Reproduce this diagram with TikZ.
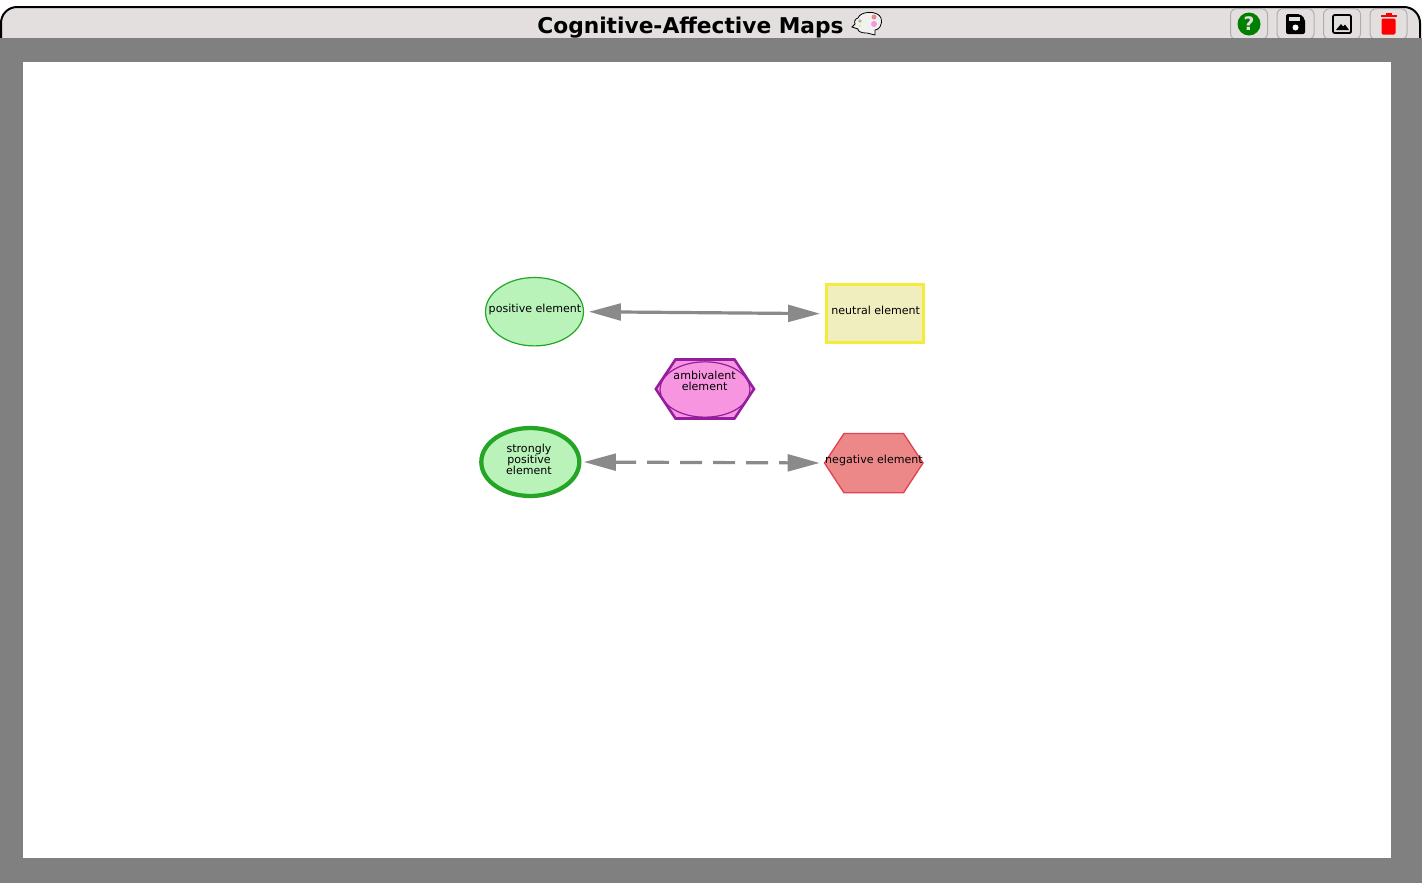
\documentclass[tikz,border=0pt]{standalone}
\usepackage{fontspec}
\setmainfont{DejaVu Sans}
\usetikzlibrary{arrows.meta,shapes.geometric}
\definecolor{bar}{HTML}{E3DFDF}
\definecolor{frame}{HTML}{808080}
\definecolor{arrowgray}{HTML}{8A8A8A}
\definecolor{posfill}{HTML}{BAF3B9}
\definecolor{posline}{HTML}{25A525}
\definecolor{negfill}{HTML}{EC8888}
\definecolor{negline}{HTML}{E04450}
\definecolor{ambfill}{HTML}{F795E0}
\definecolor{ambline}{HTML}{951E9E}
\definecolor{neufill}{HTML}{F0EDBE}
\definecolor{neuline}{HTML}{F3EC3C}
\definecolor{btnline}{HTML}{B0ADAD}
\tikzset{
  px/.style={x=0.75pt,y=-0.75pt},
  lbl/.style={font=\fontsize{8.3pt}{8.25pt}\selectfont,align=center,inner sep=0pt,text=black},
  link/.style={draw=arrowgray,line width=2.4pt,{Triangle[length=24pt,width=12.5pt,fill=arrowgray]}-{Triangle[length=24pt,width=12.5pt,fill=arrowgray]}},
  btn/.style={draw=btnline,fill=bar,line width=0.75pt,rounded corners=4.5pt,minimum width=27.75pt,minimum height=23pt,inner sep=0pt},
}
\begin{document}
\begin{tikzpicture}[px]
\useasboundingbox (0,0) rectangle (1422,883);
\fill[white] (0,0) rectangle (1422,883);
% title bar
\draw[fill=bar,line width=1.5pt] (1,40) -- (1,23) arc[start angle=180,end angle=90,radius=12pt] -- (1404,7) arc[start angle=90,end angle=0,radius=12pt] -- (1420,40);
\fill[frame] (0,38) rectangle (1422,883);
\fill[white] (23,62) rectangle (1391,858);
\node[inner sep=0pt,text=black] (title) at (690.5,27.5) {\fontsize{16.3pt}{20pt}\selectfont\bfseries Cognitive-Affective Maps};
% brain icon
\draw[line width=0.6pt,fill=bar!45!white] (858,18) .. controls (860,11) and (878,10) .. (881,18) .. controls (883,26) and (878,30) .. (875,30) -- (875,35) -- (867,33) .. controls (860,33) and (858,31) .. (858,29) -- (852,27) -- (855,24) .. controls (854,21) and (855,19) .. (858,18) -- cycle;
\fill[posfill!80!black] (860,21) circle[radius=1.8];
\fill[neuline] (860,26) circle[radius=1.2];
\fill[negfill] (874,17) circle[radius=2.5];
\fill[ambfill] (874,24) circle[radius=3];
% buttons
\node[btn] (help) at (1249,24) {};
\node[btn] (save) at (1295.5,24) {};
\node[btn] (image) at (1342,24) {};
\node[btn] (trash) at (1388.5,24) {};
\fill[frame] (1220,38) rectangle (1422,42);
\fill[green!50!black] (1249,24) circle[radius=11.5];
\node[inner sep=0pt,text=bar] (helpmark) at (1249,24) {\fontsize{14pt}{14pt}\selectfont\bfseries ?};
% save icon
\fill[black,rounded corners=1.5pt] (1286,14) -- (1300,14) -- (1305,19) -- (1305,34) -- (1286,34) -- cycle;
\fill[bar] (1289,17) rectangle (1300,21);
\fill[white] (1295.5,27.5) circle[radius=3];
% image icon
\draw[black,line width=1.4pt,rounded corners=1pt] (1333,15) rectangle (1351,33);
\fill[black] (1336,30) -- (1341,24) -- (1343,26.5) -- (1345,24.5) -- (1349,30) -- cycle;
% trash icon
\fill[red] (1380.5,14.5) rectangle (1396.5,17);
\fill[red] (1385.5,12.5) rectangle (1391.5,15);
\fill[red,rounded corners=1pt] (1381.5,18.5) rectangle (1395.5,34.5);
% elements
\node[ellipse,draw=posline,fill=posfill,line width=0.9pt,minimum width=73.5pt,minimum height=51.3pt,inner sep=0pt] (pos) at (534.5,311.7) {};
\node[lbl] (poslbl) at (535,309.5) {positive element};
\node[rectangle,draw=neuline,fill=neufill,line width=2.2pt,minimum width=73pt,minimum height=43.5pt,inner sep=0pt] (neu) at (875,313.7) {};
\node[lbl] (neulbl) at (875.7,310.3) {neutral element};
\path[draw=ambline,fill=ambfill,line width=1.9pt] (655.8,389) -- (675.5,359.5) -- (734.5,359.5) -- (754,389) -- (734.5,418.5) -- (675.5,418.5) -- cycle;
\node[ellipse,draw=ambline,line width=0.9pt,minimum width=67.5pt,minimum height=41.5pt,inner sep=0pt] (amb) at (705,389.5) {};
\node[lbl] (amblbl) at (704.6,380.8) {ambivalent\\element};
\node[ellipse,draw=posline,fill=posfill,line width=3.2pt,minimum width=73.5pt,minimum height=51pt,inner sep=0pt] (strong) at (530.3,462) {};
\node[lbl] (stronglbl) at (529,459.3) {strongly\\positive\\element};
\path[draw=negline,fill=negfill,line width=1pt] (824.5,463) -- (844,433.5) -- (903.5,433.5) -- (923,463) -- (903.5,492.8) -- (844,492.8) -- cycle;
\coordinate (neg) at (824.5,463);
\node[lbl] (neglbl) at (874,460.5) {negative element};
% connectors
\draw[link,shorten <=3.6pt,shorten >=3.6pt] (pos.east) -- (neu.west);
\draw[link,dash pattern=on 16.5pt off 8.25pt,dash phase=-24pt,shorten <=1.8pt,shorten >=3.6pt] (strong.east) -- (neg);
\end{tikzpicture}
\end{document}
